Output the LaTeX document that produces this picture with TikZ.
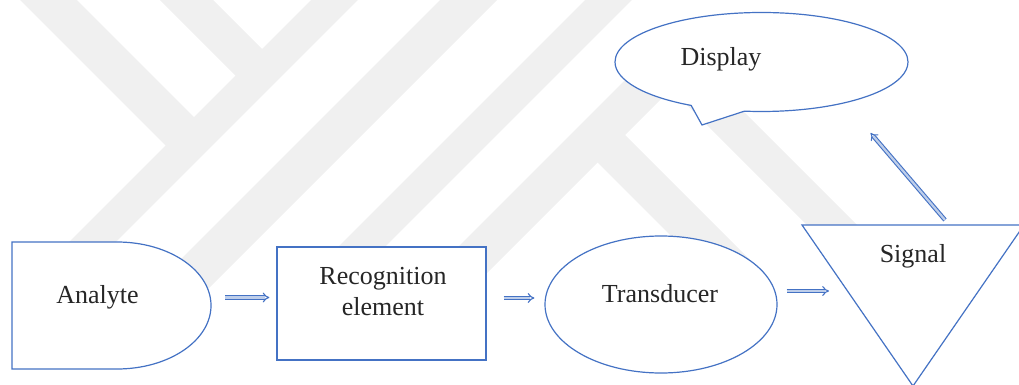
\documentclass[tikz,border=0pt]{standalone}
\usepackage{fontspec}
\setmainfont{Liberation Serif}
\usetikzlibrary{shapes.geometric,shapes.callouts,arrows.meta}

\definecolor{wordblue}{RGB}{68,114,196}
\definecolor{wmgray}{RGB}{240,240,240}

\tikzset{
  shp/.style={draw=wordblue, line width=1.2pt, fill=white},
  txt/.style={font=\fontsize{26}{31}\selectfont, text=black!85, inner sep=0pt, align=center},
  band/.style={draw=wmgray, line cap=butt},
  dblarr/.style={draw=wordblue, line width=1.1pt, double=wordblue!35, double distance=2.2pt, -{Implies}}
}

\begin{document}
\begin{tikzpicture}[x=1pt, y=-1pt]

    % Frame
    \path[use as bounding box] (0,0) rectangle (1019,385);
    \clip (0,0) rectangle (1019,385);

    % Watermark
    \draw[band, line width=40.3pt] (18.5,-30) -- (191.5,143);
    \draw[band, line width=37.5pt] (156.5,-30) -- (260.5,74);
    \draw[band, line width=33.2pt] (364.5,-30) -- (44.5,290);
    \draw[band, line width=40.3pt] (498.5,-30) -- (148.5,320);
    \draw[band, line width=33.2pt] (638.5,-30) -- (308.5,300);
    \draw[band, line width=38.9pt] (692.5,40) -- (402.5,330);
    \draw[band, line width=38.9pt] (597.5,135) -- (742.5,280);
    \draw[band, line width=35.4pt] (669.75,62.75) -- (867,260);

    % Analyte
    \node (an) at (111.5,305.5) [minimum width=199pt, minimum height=127pt, inner sep=0pt] {};
    \draw[shp] (12,242) -- (117,242) arc[start angle=-90, end angle=90, x radius=94, y radius=63.5] -- (12,369) -- cycle;
    \node[txt] (antxt) at (97.5,297) {Analyte};

    % Recognition element
    \node[shp, minimum width=209pt, minimum height=113pt] (rec) at (381.5,303.5) {};
    \node[txt] (rectxt) at (383,292) {Recognition\\element};

    % Transducer
    \node[shp, ellipse, minimum width=232pt, minimum height=137pt, inner sep=0pt] (tr) at (661,304.5) {};
    \node[txt] (trtxt) at (660,294) {Transducer};

    % Signal
    \coordinate (sigA) at (802,225);
    \coordinate (sigB) at (1024,225);
    \coordinate (sigC) at (913,386);
    \draw[shp] (sigA) -- (sigB) -- (sigC) -- cycle;
    \node[txt] (sig) at (913,256) {Signal};

    % Display
    \node[shp, ellipse callout, minimum width=293pt, minimum height=99pt, inner sep=0pt,
          callout absolute pointer={(702,125)}, callout pointer arc=22] (disp) at (761.5,62) {};
    \node[txt] (disptxt) at (721,59.5) {Display};

    % Arrows
    \draw[dblarr] ([shift={(14,-8)}]an.east) -- ([shift={(-7,-6)}]rec.west);
    \draw[dblarr] ([shift={(17,-5.5)}]rec.east) -- ([shift={(-10,-6.5)}]tr.west);
    \draw[dblarr] ([shift={(9,-13.5)}]tr.east) -- ([shift={(27,66)}]sigA);
    \draw[dblarr] ([shift={(143,-5)}]sigA) -- ([shift={(-38,71)}]disp.east);

\end{tikzpicture}
\end{document}
